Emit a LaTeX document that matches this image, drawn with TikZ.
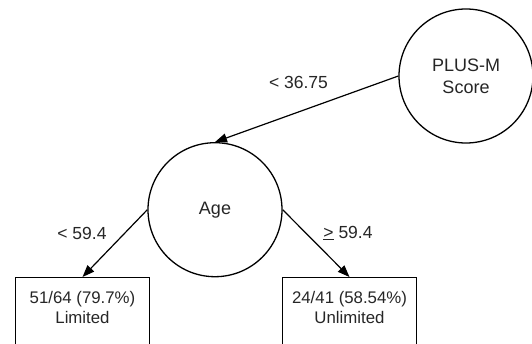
\documentclass[tikz,border=0pt]{standalone}
\usepackage{fontspec}
\setmainfont{Liberation Sans}
\usetikzlibrary{arrows.meta}
\begin{document}
\begin{tikzpicture}[x=1pt,y=1pt,
  circnode/.style={circle, draw=black, line width=1.3pt, minimum size=134pt, inner sep=0pt, align=center, text=black!85, font=\fontsize{18}{22}\selectfont},
  leafbox/.style={rectangle, draw=black, line width=1.3pt, minimum width=134pt, minimum height=120pt, anchor=north, inner sep=0pt},
  leaftext/.style={align=center, inner sep=0pt, text=black!85, font=\fontsize{16.8}{19.3}\selectfont},
  edgelab/.style={inner sep=0pt, text=black!85, font=\fontsize{17.5}{21}\selectfont},
  conn/.style={draw=black, line width=1.2pt, -{Triangle[length=12pt,width=9pt]}}]
\useasboundingbox (0,0) rectangle (532,343);
\clip (0,0) rectangle (532,343);
\node[circnode] (plus) at (466,267) {PLUS-M\\Score};
\node[circnode] (age) at (215,133.3) {Age};
\node[leafbox] (lbox) at (82.5,66) {};
\node[leafbox] (rbox) at (349.5,66) {};
\node[leaftext] (ltext) at (82.5,35.5) {51/64 (79.7\%)\\Limited};
\node[leaftext] (rtext) at (349.5,35.5) {24/41 (58.54\%)\\Unlimited};
\draw[conn] (plus.west) -- (age.north);
\draw[conn] (age.west) -- (lbox.north);
\draw[conn] (age.east) -- (rbox.north);
\node[edgelab] (lab1) at (298.5,260.5) {< 36.75};
\node[edgelab] (lab2) at (82,110) {< 59.4};
\node[edgelab] (lab3) at (348,110) {\underline{>} 59.4};
\end{tikzpicture}
\end{document}
